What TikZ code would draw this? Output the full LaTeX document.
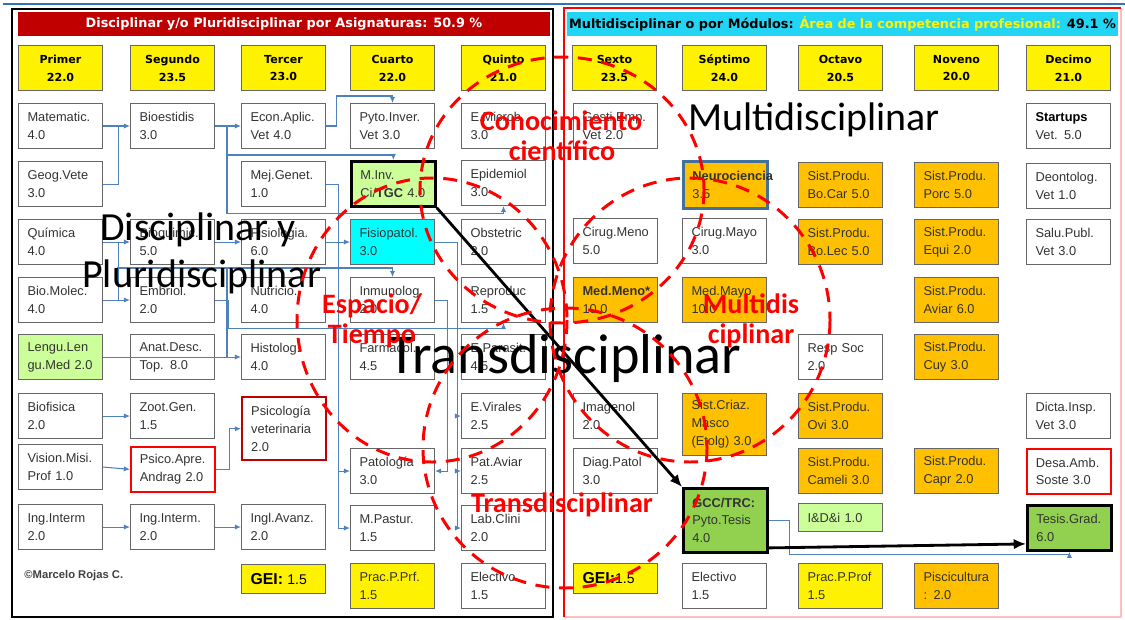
\documentclass[tikz,border=0pt]{standalone}
\usepackage{fontspec}
\setmainfont{Liberation Sans}
\newfontfamily\headfont{DejaVu Sans}
\newfontfamily\bigfont{Carlito}
\usetikzlibrary{arrows.meta}
\definecolor{barred}{HTML}{C00000}
\definecolor{barcyan}{HTML}{22D5F4}
\definecolor{linkblue}{HTML}{4F81BD}
\definecolor{cellgreen}{HTML}{CCFF99}
\definecolor{cellcyan}{HTML}{00FFFF}
\definecolor{thesisgreen}{HTML}{92D050}
\definecolor{modorange}{HTML}{FFC000}
\definecolor{neuroblue}{HTML}{41719C}
\definecolor{topblue}{HTML}{2E75B6}

\begin{document}
\begin{tikzpicture}[x=0.02cm,y=-0.02cm,
  cellbox/.style={draw=black!60,line width=0.6pt,fill=white,anchor=north west,
    minimum width=1.68cm,minimum height=0.9cm,text width=1.32cm,inner xsep=0.18cm,
    align=left,text=black!80,font=\fontsize{7.3}{10.2}\selectfont},
  yearbox/.style={draw=black!60,line width=0.6pt,fill=yellow,anchor=north west,
    minimum width=1.68cm,minimum height=0.9cm,align=center,
    font=\headfont\bfseries\fontsize{6.3}{10.2}\selectfont},
  barbox/.style={minimum height=0.48cm,inner sep=0pt,font=\headfont\bfseries\fontsize{7.3}{8}\selectfont},
  link/.style={draw=linkblue,line width=0.6pt},
  tip/.style={-{Latex[length=3.5pt,width=3pt]}},
  bigarrow/.style={draw=black,line width=1.6pt,-{Latex[length=7pt,width=6pt]}},
  redring/.style={draw=red,line width=1.7pt,dash pattern=on 8pt off 5.5pt},
  bigtext/.style={inner sep=0pt,font=\bigfont\fontsize{22.7}{26}\selectfont},
  redlabel/.style={inner sep=0pt,text=red,anchor=base,font=\bigfont\bfseries\fontsize{16}{17}\selectfont}]

\useasboundingbox (0,0) rectangle (1125,619);
\fill[white] (0,0) rectangle (1125,619);

% frames
\draw[topblue,line width=1pt] (3,4) -- (1125,4);
\draw[red!25,line width=0.8pt] (564,617) -- (1121,617) -- (1121,8);
\draw[red,line width=1.1pt] (564,617) -- (564,8) -- (1121,8);
\draw[line width=1.4pt] (12,9) rectangle (553,617);

% title bars
\node[barbox,fill=barred,text=white,minimum width=10.64cm] (leftbar) at (284,24) {Disciplinar y/o Pluridisciplinar por Asignaturas: 50.9 \%};
\node[barbox,fill=barcyan,minimum width=11.02cm] (rightbar) at (842.5,24) {Multidisciplinar o por Módulos: \textcolor{yellow}{Área de la competencia profesional:} 49.1 \%};

% semesters
\node[yearbox] (y1) at (18,45) {Primer\\22.0};
\node[yearbox] (y2) at (130,45) {Segundo\\23.5};
\node[yearbox] (y3) at (241,45) {Tercer\\23.0};
\node[yearbox] (y4) at (350,45) {Cuarto\\22.0};
\node[yearbox] (y5) at (461,45) {Quinto\\21.0};
\node[yearbox] (y6) at (572,45) {Sexto\\23.5};
\node[yearbox] (y7) at (682,45) {Séptimo\\24.0};
\node[yearbox] (y8) at (798,45) {Octavo\\20.5};
\node[yearbox] (y9) at (914,45) {Noveno\\20.0};
\node[yearbox] (y10) at (1026,45) {Decimo\\21.0};

% first to fifth
\node[cellbox] (mat) at (18,103) {Matematic.\\4.0};
\node[cellbox] (geog) at (18,161) {Geog.Vete\\3.0};
\node[cellbox] (quim) at (18,219) {Química\\4.0};
\node[cellbox] (biomol) at (18,277) {Bio.Molec.\\4.0};
\node[cellbox,fill=cellgreen] (lengu) at (18,334) {Lengu.Len\\gu.Med 2.0};
\node[cellbox] (biofis) at (18,393) {Biofisica\\2.0};
\node[cellbox] (vision) at (18,444) {Vision.Misi.\\Prof 1.0};
\node[cellbox] (ingA) at (18,504) {Ing.Interm\\2.0};

\node[cellbox] (bioest) at (130,103) {Bioestidis\\3.0};
\node[cellbox] (bioq) at (130,219) {Bioquimic.\\5.0};
\node[cellbox] (embr) at (130,277) {Embriol.\\2.0};
\node[cellbox] (anat) at (130,334) {Anat.Desc.\\Top. 8.0};
\node[cellbox] (zoot) at (130,393) {Zoot.Gen.\\1.5};
\node[cellbox,draw=red,line width=1pt] (psapre) at (130,446) {Psico.Apre.\\Andrag 2.0};
\node[cellbox] (ingB) at (130,504) {Ing.Interm.\\2.0};

\node[cellbox] (econ) at (241,103) {Econ.Aplic.\\Vet 4.0};
\node[cellbox] (mejgen) at (241,161) {Mej.Genet.\\1.0};
\node[cellbox] (fisiol) at (241,219) {Fisiologia.\\6.0};
\node[cellbox] (nutri) at (241,277) {Nutricio.\\4.0};
\node[cellbox] (histol) at (241,334) {Histolog.\\4.0};
\node[cellbox,draw=barred,line width=1.4pt,minimum height=1.26cm] (psicol) at (241,396) {Psicología\\veterinaria\\2.0};
\node[cellbox] (ingl) at (241,504) {Ingl.Avanz.\\2.0};
\node[cellbox,fill=yellow,minimum height=0.58cm,text=black] (geiA) at (241,564) {\fontsize{9}{10}\selectfont\textbf{GEI:} \fontsize{8}{10}\selectfont 1.5};

\node[cellbox] (pyto) at (350,103) {Pyto.Inver.\\Vet 3.0};
\node[cellbox,fill=cellgreen,draw=black,line width=1.6pt] (minv) at (350,160) {M.Inv.\\Ci/\textbf{TGC} 4.0};
\node[cellbox,fill=cellcyan] (fisiop) at (350,219) {Fisiopatol.\\3.0};
\node[cellbox] (inmun) at (350,277) {Inmunolog.\\2.0};
\node[cellbox] (farma) at (350,334) {Farmacol.\\4.5};
\node[cellbox] (patol) at (350,448) {Patología\\3.0};
\node[cellbox] (mpast) at (350,505) {M.Pastur.\\1.5};
\node[cellbox,fill=yellow] (pracA) at (350,563) {Prac.P.Prf.\\1.5};

\node[cellbox] (emicro) at (461,103) {E.Microb.\\3.0};
\node[cellbox] (epid) at (461,160) {Epidemiol\\3.0};
\node[cellbox] (obst) at (461,219) {Obstetric\\2.0};
\node[cellbox] (repro) at (461,277) {Reproduc\\1.5};
\node[cellbox] (epara) at (461,334) {E.Parasit.\\4.5};
\node[cellbox] (evir) at (461,393) {E.Virales\\2.5};
\node[cellbox] (patav) at (461,448) {Pat.Aviar\\2.5};
\node[cellbox] (labcl) at (461,505) {Lab.Clini\\2.0};
\node[cellbox] (electA) at (461,563) {Electivo\\1.5};

\node[anchor=base west,inner sep=0pt,text=black!75,font=\bfseries\fontsize{6.4}{8}\selectfont] (autor) at (24,578) {©Marcelo Rojas C.};

% sixth to tenth
\node[cellbox] (gesti) at (573,103) {Gesti.Emp.\\Vet 2.0};
\node[cellbox] (cirme) at (573,218) {Cirug.Meno\\5.0};
\node[cellbox,fill=modorange] (medme) at (573,277) {\textbf{Med.Meno*}\\10.0};
\node[cellbox] (imag) at (573,393) {Imagenol\\2.0};
\node[cellbox] (diagp) at (573,448) {Diag.Patol\\3.0};
\node[cellbox,fill=yellow,minimum height=0.6cm,text=black] (geiB) at (573,563) {\fontsize{9}{10}\selectfont\textbf{GEI:}\fontsize{8}{10}\selectfont 1.5};

\node[cellbox,fill=modorange,draw=neuroblue,line width=1.6pt,minimum height=0.94cm] (neuro) at (682,160) {\textbf{Neurociencia}\\3.5};
\node[cellbox] (cirma) at (682,218) {Cirug.Mayo\\3.0};
\node[cellbox,fill=modorange] (medma) at (682,277) {Med.Mayo\\10.0};
\node[cellbox,fill=modorange,minimum height=1.24cm] (criaz) at (682,393) {Sist.Criaz.\\Masco\\(Etolg) 3.0};
\node[cellbox,fill=thesisgreen,draw=black,line width=1.6pt,minimum height=1.28cm] (gcc) at (682,487) {\textbf{GCC/TRC:}\\Pyto.Tesis\\4.0};
\node[cellbox] (electB) at (682,563) {Electivo\\1.5};

\node[cellbox,fill=modorange] (bocar) at (798,162) {Sist.Produ.\\Bo.Car 5.0};
\node[cellbox,fill=modorange] (bolec) at (798,219) {Sist.Produ.\\Bo.Lec 5.0};
\node[cellbox] (resp) at (798,334) {Resp Soc\\2.0};
\node[cellbox,fill=modorange] (ovi) at (798,393) {Sist.Produ.\\Ovi 3.0};
\node[cellbox,fill=modorange] (cameli) at (798,448) {Sist.Produ.\\Cameli 3.0};
\node[cellbox,fill=cellgreen,minimum height=0.56cm] (idi) at (798,503) {I\&D\&i 1.0};
\node[cellbox,fill=yellow] (pracB) at (798,563) {Prac.P.Prof\\1.5};

\node[cellbox,fill=modorange] (porc) at (914,162) {Sist.Produ.\\Porc 5.0};
\node[cellbox,fill=modorange] (equi) at (914,219) {Sist.Produ.\\Equi 2.0};
\node[cellbox,fill=modorange] (aviar) at (914,277) {Sist.Produ.\\Aviar 6.0};
\node[cellbox,fill=modorange] (cuy) at (914,334) {Sist.Produ.\\Cuy 3.0};
\node[cellbox,fill=modorange] (capr) at (914,448) {Sist.Produ.\\Capr 2.0};
\node[cellbox,fill=modorange] (pisci) at (914,563) {Piscicultura\\: 2.0};

\node[cellbox] (startup) at (1026,103) {\textcolor{black}{\textbf{Startups}}\\Vet. 5.0};
\node[cellbox] (deont) at (1026,163) {Deontolog.\\Vet 1.0};
\node[cellbox] (salud) at (1026,219) {Salu.Publ.\\Vet 3.0};
\node[cellbox] (dicta) at (1026,393) {Dicta.Insp.\\Vet 3.0};
\node[cellbox,draw=red,line width=1pt] (desa) at (1026,448) {Desa.Amb.\\Soste 3.0};
\node[cellbox,fill=thesisgreen,draw=black,line width=1.6pt] (tesis) at (1026,504) {Tesis.Grad.\\6.0};

% prerequisite links
\coordinate (jb) at (227,125.5);
\coordinate (jq) at (117,268);
\draw[link,tip] (mat.east) -- (bioest.west);
\draw[link] (geog.east) -| ([xshift=0.3cm]mat.east);
\draw[link,tip] (bioest.east) -- (econ.west);
\draw[link,tip] (econ.east) -- ++(10,0) |- ([yshift=0.14cm]pyto.north) -- (pyto.north);
\draw[link,tip] (jb) |- ([yshift=0.1cm]minv.north) -- (minv.north);
\draw[link,tip] (jb) |- ([yshift=-0.14cm]epid.south) -- (epid.south);
\draw[link,tip] (mejgen.east) -- ++(12,0) |- (patol.west);
\draw[link,tip] (mejgen.east) -- ++(12,0) |- (mpast.west);
\draw[link,tip] (quim.east) -- (bioq.west);
\draw[link,tip] (biomol.east) -- (embr.west);
\draw[link] ([xshift=0.3cm]quim.east) -- ([xshift=0.3cm]biomol.east);
\draw[link,tip] (jq) -| (inmun.north);
\draw[link] (jq -| jb) -- (jb |- histol.west);
\draw[link,tip] (bioq.east) -- (fisiol.west);
\draw[link,tip] (fisiol.east) -- (fisiop.west);
\draw[link,tip] (fisiop.east) -- ++(22,0) |- (evir.west);
\draw[link,tip] (fisiop.east) -- ++(22,0) |- (patav.west);
\draw[link,tip] (fisiop.east) -- ++(22,0) |- (labcl.west);
\draw[link,tip] (inmun.east) -- ++(12,0) |- (patol.east);
\draw[link,tip] (embr.east) -- ++(13,0) |- ([yshift=-0.1cm]repro.south) -- (repro.south);
\draw[link,tip] (lengu.east) -- (histol.west);
\draw[link,tip] (biofis.east) -- (zoot.west);
\draw[link,tip] (vision.east) -- (psapre.west);
\draw[link,tip] (psapre.east) -- ++(14,0) |- (psicol.west);
\draw[link,tip] (ingA.east) -- (ingB.west);
\draw[link,tip] (ingB.east) -- (ingl.west);
\draw[link,tip] (gcc.east) -- ++(21,0) |- ([yshift=-0.06cm]tesis.south) -- (tesis.south);

% research line
\draw[bigarrow] (minv.south east) -- (gcc.north west);
\draw[bigarrow] ([yshift=-0.55cm]gcc.east) -- ([yshift=-0.32cm]tesis.west);

% big labels
\node[bigtext,anchor=base west] (disc1) at (100,240) {Disciplinar y};
\node[bigtext,anchor=base west] (disc2) at (82,287) {Pluridisciplinar};
\node[bigtext,anchor=base west] (multbig) at (688,130) {Multidisciplinar};
\node[bigtext,anchor=base,font=\bigfont\fontsize{32}{32}\selectfont] (transbig) at (565,373) {Transdisciplinar};

% dashed fields
\draw[redring] (562,190) ellipse [x radius=142,y radius=133];
\draw[redring] (432,320) ellipse [x radius=135,y radius=142];
\draw[redring] (690,320) ellipse [x radius=140,y radius=142];
\draw[redring] (565,448) ellipse [x radius=142,y radius=140];

\node[redlabel] (conoc1) at (561,130) {Conocimiento};
\node[redlabel] (conoc2) at (562,160) {científico};
\node[redlabel] (espac1) at (372,313) {Espacio/};
\node[redlabel] (espac2) at (372,343) {Tiempo};
\node[redlabel] (multi1) at (751,313) {Multidis};
\node[redlabel] (multi2) at (751,343) {ciplinar};
\node[redlabel] (trans1) at (562,512) {Transdisciplinar};

\end{tikzpicture}
\end{document}
